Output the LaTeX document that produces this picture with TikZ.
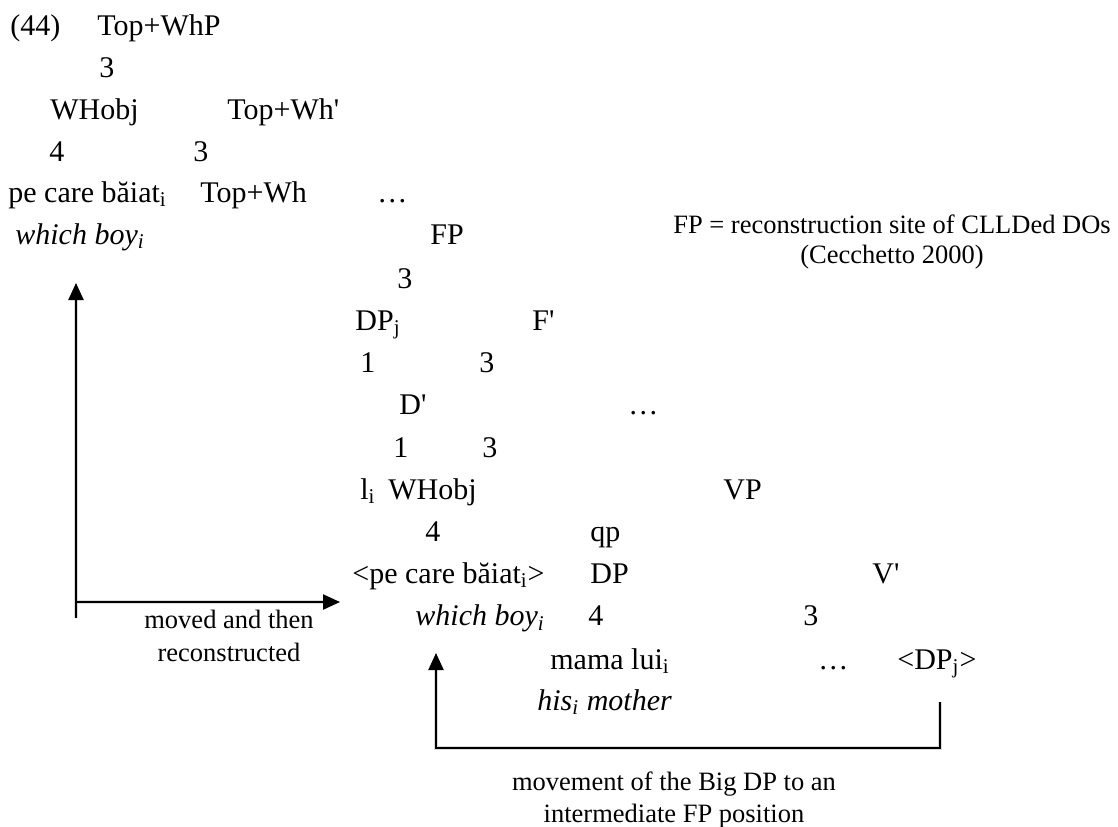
\documentclass[tikz,border=0pt]{standalone}
\usepackage{fontspec}
\setmainfont{Liberation Serif}
\usetikzlibrary{arrows.meta}
\newcommand{\ap}{\textquotesingle}
\begin{document}
\begin{tikzpicture}[x=0.5pt,y=-0.5pt,
  lab/.style={anchor=base west,inner sep=0pt,font=\fontsize{15}{18}\selectfont},
  note/.style={anchor=base,inner sep=0pt,font=\fontsize{13.25}{16}\selectfont},
  mover/.style={line width=1pt,-{Triangle[length=8.5pt,width=7.5pt]}},
  shade/.style={line width=1.8pt,black!30,opacity=0.45,shift={(1.5,1.5)}},
  shadetip/.style={shade,-{Triangle[length=8.5pt,width=7.5pt]}}
]
\useasboundingbox (0,0) rectangle (1118,826);

% example number and upper tree
\node[lab] (num)   at (10,35)    {(44)};
\node[lab] (topwhp) at (97,35)   {Top+WhP};
\node[lab] (b1)    at (99,77.2)  {3};
\node[lab] (whobj) at (50,119.4) {WHobj};
\node[lab] (topwhbar) at (227,119.4) {Top+Wh\ap};
\node[lab] (b2)    at (49,161.6) {4};
\node[lab] (b3)    at (193,161.6) {3};
\node[lab] (pecare) at (8,202) {pe care băiat\textsubscript{i}};
\node[lab] (topwh) at (200,202) {Top+Wh};
\node[lab] (dots1) at (377,202) {…};
\node[lab] (gloss1) at (15,244) {\itshape which boy\textsubscript{i}};
\node[lab] (fp)    at (430,244)  {FP};

% side note
\node[note] (fpnote) at (892,233) {FP = reconstruction site of CLLDed DOs};
\node[note] (fpref)  at (892,263) {(Cecchetto 2000)};

% middle tree
\node[lab] (b4)    at (397,288.2) {3};
\node[lab] (dpj)   at (355,330.4) {DP\textsubscript{j}};
\node[lab] (fbar)  at (532,330.4) {F\ap};
\node[lab] (b5)    at (360,372.6) {1};
\node[lab] (b6)    at (479,372.6) {3};
\node[lab] (dbar)  at (399,414.8) {D\ap};
\node[lab] (dots2) at (628,414.8) {…};
\node[lab] (b7)    at (393,457)  {1};
\node[lab] (b8)    at (482,457)  {3};
\node[lab] (li)    at (360,499.2) {l\textsubscript{i}};
\node[lab] (whobj2) at (388,499.2) {WHobj};
\node[lab] (vp)    at (723,499.2) {VP};
\node[lab] (b9)    at (425,541.4) {4};
\node[lab] (b10)   at (590,541.4) {qp};
\node[lab] (pecare2) at (352,583.6) {<pe care băiat\textsubscript{i}>};
\node[lab] (dp)    at (590,583.6) {DP};
\node[lab] (vbar)  at (872,583.6) {V\ap};
\node[lab] (gloss2) at (415,625.8) {\itshape which boy\textsubscript{i}};
\node[lab] (b11)   at (588,625.8) {4};
\node[lab] (b12)   at (803,625.8) {3};
\node[lab] (mama)  at (550,669)  {mama lui\textsubscript{i}};
\node[lab] (dots3) at (818,669)  {…};
\node[lab] (dpj2)  at (897,669)  {<DP\textsubscript{j}>};
\node[lab] (gloss3) at (537,710.2) {\itshape his\textsubscript{i} mother};

% arrow labels
\node[note] (moved1) at (229,628) {moved and then};
\node[note] (moved2) at (229,661) {reconstructed};
\node[note] (mv1)    at (674,790) {movement of the Big DP to an};
\node[note] (mv2)    at (674,822) {intermediate FP position};

% corners of the movement arrows
\coordinate (la) at (76,283);
\coordinate (lb) at (76,618);
\coordinate (lc) at (76,602);
\coordinate (ld) at (340,602);
\coordinate (ra) at (940,702);
\coordinate (rb) at (940,748);
\coordinate (rc) at (436,748);
\coordinate (rd) at (436,653);

% soft shadows
\draw[shadetip] (lb) -- (la);
\draw[shadetip] (lc) -- (ld);
\draw[shadetip] (ra) -- (rb) -- (rc) -- (rd);

% arrows
\draw[mover] (lb) -- (la);
\draw[mover] (lc) -- (ld);
\draw[mover] (ra) -- (rb) -- (rc) -- (rd);
\end{tikzpicture}
\end{document}
